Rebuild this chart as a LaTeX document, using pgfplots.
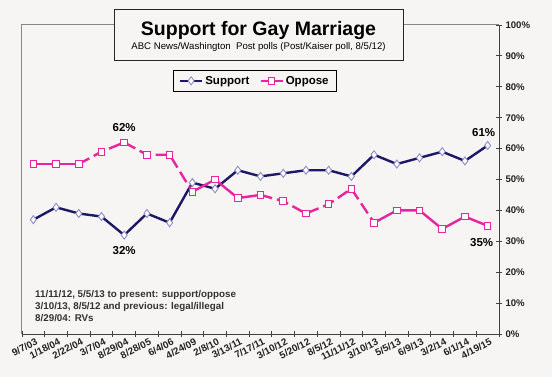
\documentclass[border=0pt]{standalone}
\usepackage{fontspec}
\setmainfont{Liberation Sans}
\usepackage{pgfplots}
\pgfplotsset{compat=1.18}
\usepackage{pgfplotstable}
\definecolor{bg}{HTML}{F6F5F4}
\definecolor{navy}{HTML}{1C1866}
\definecolor{navymk}{HTML}{8C8CC8}
\definecolor{pinkl}{HTML}{E8259E}
\definecolor{txt}{HTML}{222222}
\definecolor{framec}{HTML}{8A8684}

\pgfplotstableread{
x s o
0 37 55
1 41 55
2 39 55
3 38 59
4 32 62
5 39 58
6 36 58
7 49 46
8 47 50
9 53 44
10 51 45
11 52 43
12 53 39
13 53 42
14 51 47
15 58 36
16 55 40
17 57 40
18 59 34
19 56 38
20 61 35
}\data

\begin{document}
\begin{tikzpicture}[x=1pt,y=1pt]
\fill[bg] (-22,-43) rectangle (530,334);
\useasboundingbox (-22,-43) rectangle (530,334);
\begin{axis}[
  at={(0,0)}, anchor=south west, scale only axis,
  width=477pt, height=309pt,
  xmin=-0.5, xmax=20.5, ymin=0, ymax=100,
  axis x line*=bottom, axis y line*=right,
  axis line style={color=black!75, line width=0.9pt},
  tick align=center, major tick length=6pt,
  tick style={color=black!75, line width=0.9pt},
  xtick={-0.5,0.5,...,20.5}, xticklabels={},
  extra x ticks={0,...,20},
  extra x tick labels={9/7/03,1/18/04,2/22/04,3/7/04,8/29/04,8/28/05,6/4/06,4/24/09,2/8/10,3/13/11,7/17/11,3/10/12,5/20/12,8/5/12,11/11/12,3/10/13,5/5/13,6/9/13,3/2/14,6/1/14,4/19/15},
  extra x tick style={major tick length=0pt, tick label style={rotate=27, anchor=north east, yshift=-3pt, xshift=1pt, font=\bfseries\fontsize{9.8}{10}\selectfont, text=txt, inner sep=1pt}},
  ytick={0,10,...,100},
  yticklabel={\pgfmathprintnumber{\tick}\%},
  y tick label style={font=\bfseries\fontsize{9.6}{10}\selectfont, text=txt},
  /pgf/number format/assume math mode=true,
  clip=false,
  legend columns=2,
  legend style={at={(rel axis cs:0.3166,0.854)}, anchor=north west, draw=black, line width=0.8pt, fill=bg,
    font=\bfseries\fontsize{11.5}{13}\selectfont, inner xsep=5.5pt, inner ysep=3.5pt,
    /tikz/every even column/.append style={column sep=8pt}},
  legend image code/.code={\draw[#1,mark repeat=2,mark phase=2] plot coordinates {(0pt,0pt) (11pt,0pt) (22pt,0pt)};},
]
\draw[framec, line width=1pt] (rel axis cs:0,0) -- (rel axis cs:0,1) -- (rel axis cs:1,1);
\addlegendimage{navy, line width=2.4pt, mark=diamond*, mark size=4pt, mark options={fill=white, draw=navymk, line width=0.9pt, solid}}
\addlegendentry{Support}
\addlegendimage{pinkl, line width=2.4pt, mark=square*, mark size=3.3pt, mark options={fill=white, draw=pinkl, line width=0.9pt, solid}}
\addlegendentry{Oppose}
\addplot[forget plot, navy, line width=2.4pt, mark=diamond*, mark size=4pt, mark options={fill=white, draw=navymk, line width=0.9pt, solid}] table[x=x,y=s]{\data};
\addplot[forget plot, pinkl, line width=2.4pt, restrict x to domain=0:2] table[x=x,y=o]{\data};
\addplot[forget plot, pinkl, line width=2.4pt, dash pattern=on 12pt off 5pt, restrict x to domain=2:7] table[x=x,y=o]{\data};
\addplot[forget plot, pinkl, line width=2.4pt, restrict x to domain=7:10] table[x=x,y=o]{\data};
\addplot[forget plot, pinkl, line width=2.4pt, dash pattern=on 12pt off 5pt, restrict x to domain=10:15] table[x=x,y=o]{\data};
\addplot[forget plot, pinkl, line width=2.4pt, restrict x to domain=15:20] table[x=x,y=o]{\data};
\addplot[forget plot, only marks, mark=square*, mark size=3.3pt, mark options={fill=white, draw=pinkl, line width=0.9pt}] table[x=x,y=o]{\data};
\node[font=\bfseries\fontsize{11.5}{12}\selectfont, yshift=14.5pt] at (axis cs:4,62) {62\%};
\node[font=\bfseries\fontsize{11.5}{12}\selectfont, yshift=-15pt] at (axis cs:4,32) {32\%};
\node[font=\bfseries\fontsize{11.5}{12}\selectfont, xshift=-4pt, yshift=13pt] at (axis cs:20,61) {61\%};
\node[font=\bfseries\fontsize{11.5}{12}\selectfont, xshift=-6pt, yshift=-17pt] at (axis cs:20,35) {35\%};
\end{axis}
\draw[black!85, line width=1pt, fill=bg] (92,324) rectangle (381,273);
\node[anchor=base, font=\bfseries\fontsize{19.5}{20}\selectfont, inner sep=0] at (236.5,298) {Support for Gay Marriage};
\node[anchor=base, font=\fontsize{9.6}{10}\selectfont, inner sep=0] at (236.5,284.5) {ABC News/Washington\ \ Post polls (Post/Kaiser poll, 8/5/12)};
\node[anchor=north west, align=left, inner sep=0, text=black!80, font=\bfseries\fontsize{9.8}{11.7}\selectfont] at (13,43.3) {11/11/12, 5/5/13 to present: support/oppose\\3/10/13, 8/5/12 and previous: legal/illegal\\8/29/04: RVs};
\end{tikzpicture}
\end{document}
